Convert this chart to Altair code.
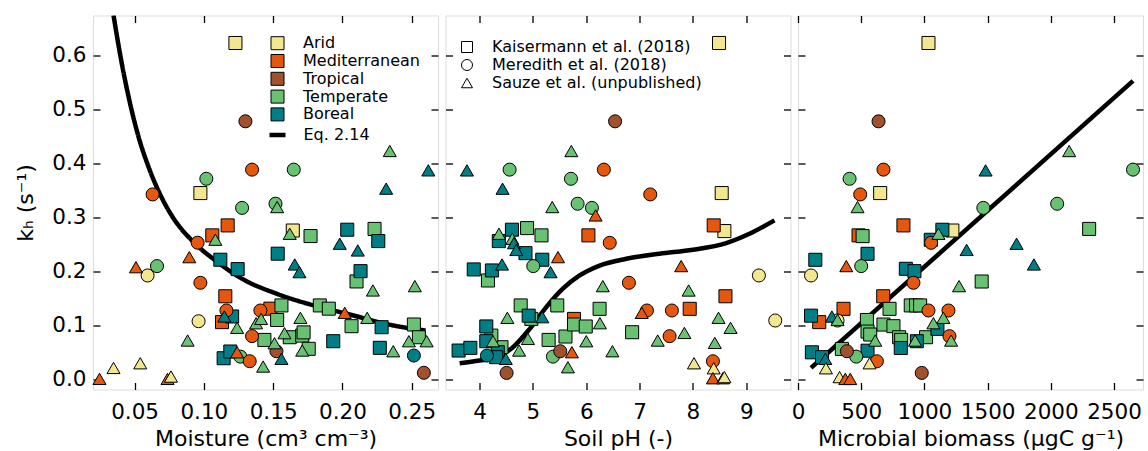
import altair as alt
import pandas as pd

FONT = "DejaVu Sans"

ZONES = ["Arid", "Mediterranean", "Tropical", "Temperate", "Boreal"]
ZONE_COLORS = ["#F2E68E", "#E5570D", "#A0512D", "#69C172", "#007E86"]
STUDIES = ["Kaisermann et al. (2018)", "Meredith et al. (2018)", "Sauze et al. (unpublished)"]
STUDY_SHAPES = ["square", "circle", "triangle-up"]
Y_TICKS = [0.0, 0.1, 0.2, 0.3, 0.4, 0.5, 0.6]

# ---------------- Panel 1: moisture (cm3 cm-3) vs kh ----------------
moist_kais = [
    (0.1228, 0.624, "Arid"), (0.0975, 0.3455, "Arid"), (0.1642, 0.276, "Arid"),
    (0.1172, 0.2855, "Mediterranean"), (0.1061, 0.267, "Mediterranean"), (0.1155, 0.154, "Mediterranean"),
    (0.1131, 0.106, "Mediterranean"), (0.1480, 0.131, "Mediterranean"),
    (0.1770, 0.2657, "Temperate"), (0.2232, 0.279, "Temperate"), (0.2102, 0.1815, "Temperate"),
    (0.1560, 0.137, "Temperate"), (0.1837, 0.137, "Temperate"), (0.1902, 0.131, "Temperate"),
    (0.1529, 0.110, "Temperate"), (0.2066, 0.0985, "Temperate"), (0.2516, 0.1016, "Temperate"),
    (0.2552, 0.078, "Temperate"), (0.1437, 0.073, "Temperate"), (0.1620, 0.078, "Temperate"),
    (0.1710, 0.081, "Temperate"), (0.1720, 0.087, "Temperate"), (0.1757, 0.0565, "Temperate"),
    (0.1119, 0.2218, "Boreal"), (0.1244, 0.2044, "Boreal"), (0.1533, 0.233, "Boreal"),
    (0.2035, 0.2775, "Boreal"), (0.2259, 0.2564, "Boreal"), (0.2131, 0.2006, "Boreal"),
    (0.2283, 0.0966, "Boreal"), (0.1934, 0.0706, "Boreal"), (0.2270, 0.0583, "Boreal"),
    (0.1204, 0.1165, "Boreal"), (0.1143, 0.039, "Boreal"), (0.1191, 0.0515, "Boreal"),
]
moist_mere = [
    (0.1300, 0.4787, "Tropical"), (0.1348, 0.389, "Mediterranean"), (0.1649, 0.389, "Temperate"),
    (0.1018, 0.372, "Temperate"), (0.0630, 0.343, "Mediterranean"), (0.1517, 0.3258, "Temperate"),
    (0.1276, 0.318, "Temperate"), (0.0955, 0.2534, "Mediterranean"), (0.0662, 0.210, "Temperate"),
    (0.0594, 0.1926, "Arid"), (0.0975, 0.179, "Mediterranean"), (0.1163, 0.1276, "Mediterranean"),
    (0.1408, 0.1276, "Mediterranean"), (0.0962, 0.1077, "Arid"), (0.1348, 0.080, "Mediterranean"),
    (0.1264, 0.042, "Temperate"), (0.1331, 0.0335, "Mediterranean"), (0.1524, 0.052, "Tropical"),
    (0.2516, 0.044, "Boreal"), (0.2588, 0.012, "Tropical"),
]
moist_sauze = [
    (0.2342, 0.4236, "Temperate"), (0.2620, 0.3877, "Boreal"), (0.2316, 0.3537, "Boreal"),
    (0.1529, 0.3195, "Temperate"), (0.1620, 0.270, "Temperate"), (0.1083, 0.259, "Temperate"),
    (0.1981, 0.2515, "Boreal"), (0.2111, 0.239, "Boreal"), (0.0895, 0.2266, "Mediterranean"),
    (0.0510, 0.208, "Mediterranean"), (0.1656, 0.213, "Boreal"), (0.1690, 0.1988, "Boreal"),
    (0.2220, 0.1648, "Temperate"), (0.2523, 0.1728, "Temperate"), (0.2017, 0.1233, "Mediterranean"),
    (0.2179, 0.114, "Temperate"), (0.1697, 0.114, "Temperate"), (0.1148, 0.1165, "Boreal"),
    (0.0883, 0.0719, "Temperate"), (0.0348, 0.021, "Arid"), (0.0541, 0.0297, "Arid"),
    (0.0247, 0.0007, "Mediterranean"), (0.0738, 0.0007, "Mediterranean"), (0.0763, 0.005, "Arid"),
    (0.1240, 0.0955, "Temperate"), (0.1240, 0.050, "Mediterranean"), (0.1377, 0.104, "Temperate"),
    (0.1413, 0.112, "Temperate"), (0.1428, 0.0236, "Temperate"), (0.1510, 0.0669, "Temperate"),
    (0.1560, 0.0379, "Boreal"), (0.1582, 0.0855, "Temperate"), (0.1710, 0.0533, "Temperate"),
    (0.2367, 0.052, "Temperate"), (0.2480, 0.0706, "Temperate"), (0.2608, 0.0706, "Temperate"),
]
moist_curve_x = [0.0348, 0.0397, 0.0457, 0.0529, 0.0601, 0.0698, 0.0775, 0.0930, 0.1083, 0.1276,
                 0.1528, 0.1842, 0.2034, 0.2371, 0.2600]
moist_curve_k = [0.6756, 0.601, 0.524, 0.4496, 0.394, 0.336, 0.301, 0.2535, 0.2205, 0.1865,
                 0.1585, 0.1337, 0.1214, 0.0997, 0.0904]

# ---------------- Panel 2: soil pH vs kh ----------------
ph_kais = [
    (8.49, 0.624, "Arid"), (8.54, 0.3455, "Arid"), (8.59, 0.275, "Arid"),
    (8.39, 0.2855, "Mediterranean"), (6.04, 0.267, "Mediterranean"), (8.61, 0.154, "Mediterranean"),
    (7.94, 0.1307, "Mediterranean"), (5.77, 0.112, "Mediterranean"),
    (4.89, 0.2805, "Temperate"), (5.16, 0.267, "Temperate"), (4.156, 0.1833, "Temperate"),
    (4.77, 0.137, "Temperate"), (4.97, 0.112, "Temperate"), (5.456, 0.137, "Temperate"),
    (5.294, 0.073, "Temperate"), (5.61, 0.0793, "Temperate"), (5.77, 0.1016, "Temperate"),
    (5.99, 0.0979, "Temperate"), (6.25, 0.1307, "Temperate"), (6.86, 0.0873, "Temperate"),
    (4.41, 0.0595, "Temperate"), (4.22, 0.081, "Temperate"),
    (4.606, 0.2775, "Boreal"), (4.36, 0.2564, "Boreal"), (4.86, 0.234, "Boreal"),
    (5.175, 0.2218, "Boreal"), (3.89, 0.2038, "Boreal"), (4.23, 0.2019, "Boreal"),
    (4.92, 0.118, "Boreal"), (4.125, 0.098, "Boreal"), (4.125, 0.0706, "Boreal"),
    (3.606, 0.0533, "Boreal"), (3.826, 0.0583, "Boreal"), (4.34, 0.0502, "Boreal"),
    (4.31, 0.041, "Boreal"),
]
ph_mere = [
    (6.54, 0.4786, "Tropical"), (6.33, 0.389, "Mediterranean"), (4.5625, 0.389, "Temperate"),
    (5.7125, 0.372, "Temperate"), (7.20, 0.343, "Mediterranean"), (5.8375, 0.3257, "Temperate"),
    (6.106, 0.318, "Temperate"), (6.44, 0.2532, "Mediterranean"), (5.006, 0.210, "Temperate"),
    (9.2375, 0.1926, "Arid"), (6.80, 0.179, "Mediterranean"), (7.1375, 0.1276, "Mediterranean"),
    (7.606, 0.1276, "Mediterranean"), (9.544, 0.109, "Arid"), (7.5625, 0.080, "Mediterranean"),
    (5.375, 0.042, "Temperate"), (8.375, 0.0334, "Mediterranean"), (5.5125, 0.052, "Tropical"),
    (4.1375, 0.044, "Boreal"), (4.506, 0.0118, "Tropical"),
]
ph_sauze = [
    (5.72, 0.4235, "Temperate"), (3.7625, 0.3876, "Boreal"), (4.43, 0.3536, "Boreal"),
    (5.3625, 0.3195, "Temperate"), (6.175, 0.304, "Mediterranean"), (4.3625, 0.270, "Temperate"),
    (4.6125, 0.2607, "Temperate"), (4.644, 0.2526, "Boreal"), (4.6875, 0.240, "Boreal"),
    (5.47, 0.2266, "Mediterranean"), (4.42, 0.213, "Boreal"), (7.78, 0.210, "Mediterranean"),
    (5.33, 0.1988, "Boreal"), (6.31, 0.1728, "Temperate"), (7.92, 0.1647, "Temperate"),
    (7.04, 0.1232, "Mediterranean"), (4.52, 0.114, "Temperate"), (5.175, 0.1152, "Boreal"),
    (8.48, 0.114, "Temperate"), (6.256, 0.104, "Temperate"), (8.706, 0.0954, "Temperate"),
    (7.84, 0.086, "Temperate"), (7.34, 0.0718, "Temperate"), (4.906, 0.0749, "Temperate"),
    (6.00, 0.0706, "Temperate"), (8.41, 0.0675, "Temperate"), (4.74, 0.0533, "Temperate"),
    (6.49, 0.052, "Temperate"), (5.73, 0.0502, "Mediterranean"), (4.49, 0.0378, "Boreal"),
    (4.25, 0.0706, "Temperate"), (5.656, 0.0223, "Temperate"), (8.02, 0.0297, "Arid"),
    (8.39, 0.0204, "Arid"), (8.375, 0.0019, "Mediterranean"), (8.5625, 0.0019, "Mediterranean"),
    (8.59, 0.004, "Arid"),
]
ph_curve_x = [3.625, 4.0, 4.31, 4.625, 4.94, 5.25, 5.56, 5.875, 6.25, 6.75, 7.375, 8.0, 8.625, 9.06, 9.53]
ph_curve_k = [0.0297, 0.0347, 0.0409, 0.0595, 0.0936, 0.1338, 0.168, 0.1926, 0.211, 0.2236, 0.233,
              0.2403, 0.2527, 0.270, 0.2948]

# ---------------- Panel 3: microbial biomass (ugC g-1) vs kh ----------------
bio_kais = [
    (1032, 0.624, "Arid"), (650, 0.3455, "Arid"), (1221, 0.276, "Arid"),
    (834, 0.2855, "Mediterranean"), (479, 0.267, "Mediterranean"), (674, 0.154, "Mediterranean"),
    (360, 0.1307, "Mediterranean"), (168, 0.106, "Mediterranean"),
    (511, 0.2656, "Temperate"), (1453, 0.1814, "Temperate"), (2303, 0.279, "Temperate"),
    (724, 0.1307, "Temperate"), (892, 0.137, "Temperate"), (934, 0.137, "Temperate"),
    (966, 0.137, "Temperate"), (545, 0.110, "Temperate"), (676, 0.1015, "Temperate"),
    (755, 0.0985, "Temperate"), (550, 0.0885, "Temperate"), (571, 0.083, "Temperate"),
    (800, 0.078, "Temperate"), (816, 0.073, "Temperate"), (1013, 0.078, "Temperate"),
    (347, 0.0563, "Temperate"),
    (550, 0.2328, "Boreal"), (137, 0.2217, "Boreal"), (1142, 0.2774, "Boreal"),
    (1050, 0.2588, "Boreal"), (853, 0.205, "Boreal"), (921, 0.2006, "Boreal"),
    (103, 0.118, "Boreal"), (1103, 0.0935, "Boreal"), (940, 0.0706, "Boreal"),
    (813, 0.058, "Boreal"), (550, 0.053, "Boreal"), (110, 0.050, "Boreal"), (190, 0.041, "Boreal"),
]
bio_mere = [
    (637, 0.4786, "Tropical"), (676, 0.389, "Mediterranean"), (408, 0.372, "Temperate"),
    (492, 0.343, "Mediterranean"), (1466, 0.318, "Temperate"), (2050, 0.3257, "Temperate"),
    (2650, 0.389, "Temperate"), (1053, 0.2532, "Mediterranean"), (500, 0.210, "Temperate"),
    (103, 0.1926, "Arid"), (913, 0.179, "Mediterranean"), (1032, 0.1276, "Mediterranean"),
    (1190, 0.1276, "Mediterranean"), (313, 0.109, "Arid"), (1198, 0.080, "Mediterranean"),
    (461, 0.042, "Temperate"), (624, 0.0334, "Mediterranean"), (387, 0.052, "Tropical"),
    (979, 0.0118, "Tropical"),
]
bio_sauze = [
    (2145, 0.4235, "Temperate"), (1484, 0.3876, "Boreal"), (471, 0.3195, "Temperate"),
    (1111, 0.270, "Temperate"), (1334, 0.240, "Boreal"), (1729, 0.2514, "Boreal"),
    (1866, 0.213, "Boreal"), (382, 0.210, "Mediterranean"), (1274, 0.1728, "Temperate"),
    (268, 0.1164, "Boreal"), (1150, 0.114, "Temperate"), (1071, 0.104, "Temperate"),
    (313, 0.110, "Temperate"), (611, 0.0718, "Temperate"), (926, 0.0718, "Temperate"),
    (1211, 0.0718, "Temperate"), (216, 0.0378, "Boreal"), (221, 0.0204, "Arid"),
    (566, 0.0297, "Arid"), (329, 0.004, "Arid"), (374, 0.0006, "Mediterranean"),
    (413, 0.0006, "Mediterranean"),
]
bio_curve_x = [103, 2650]
bio_curve_k = [0.0212, 0.5536]


def points_frame(kais, mere, sauze):
    rows = []
    for study, group in zip(STUDIES, [kais, mere, sauze]):
        for x, k, zone in group:
            rows.append({"x": x, "k": k, "zone": zone, "study": study})
    return pd.DataFrame(rows)


LEG_FS = 16
fill_legend = alt.Legend(
    title=None, orient="none", legendX=176.5, legendY=19.7, symbolType="square", symbolSize=169,
    symbolStrokeColor="black", symbolStrokeWidth=1, labelFontSize=LEG_FS, labelFont=FONT,
    labelColor="black", labelOffset=17.5, rowPadding=-0.2, padding=0, direction="vertical",
    labelLimit=400,
)
shape_legend = alt.Legend(
    title=None, orient="none", legendX=366, legendY=23.5, symbolSize=121,
    symbolFillColor="white", symbolStrokeColor="black", symbolStrokeWidth=1,
    labelFontSize=LEG_FS, labelFont=FONT, labelColor="black", labelOffset=17, rowPadding=2,
    padding=0, direction="vertical", labelLimit=400,
)
line_legend = alt.Legend(
    title=None, orient="none", legendX=174, legendY=109, symbolType="stroke", symbolSize=256,
    symbolStrokeColor="black", symbolStrokeWidth=4.5, labelFontSize=LEG_FS, labelFont=FONT,
    labelColor="black", labelOffset=15.5, padding=0, labelLimit=400,
)

Y_DOMAIN = [-0.019, 0.675]
W, H = 345, 374


def panel(pts, cx, ck, xdomain, xticks, xfmt, xtitle, show_y, line_label=None, interp="monotone"):
    xs = alt.Scale(domain=xdomain, nice=False, zero=False)
    ys = alt.Scale(domain=Y_DOMAIN, nice=False, zero=False)
    tick_kw = dict(labels=False, title=None, domain=False, grid=False, ticks=True, tickSize=7,
                   offset=-7, tickColor="black", tickWidth=1.3)
    curve_df = pd.DataFrame({"x": cx, "k": ck})
    curve_df["label"] = line_label if line_label else "curve"

    enc_line = dict(
        x=alt.X("x:Q", scale=xs, axis=alt.Axis(values=xticks, orient="bottom", **tick_kw)),
        y=alt.Y("k:Q", scale=ys, axis=alt.Axis(values=Y_TICKS, orient="left", **tick_kw)),
        order=alt.Order("x:Q"),
    )
    if line_label:
        enc_line["strokeDash"] = alt.StrokeDash(
            "label:N", scale=alt.Scale(domain=[line_label], range=[[1, 0]]), legend=line_legend)
    curve = alt.Chart(curve_df).mark_line(color="black", strokeWidth=4.5, interpolate=interp,
                                          clip=True).encode(**enc_line)

    x_axis = alt.Axis(values=xticks, format=xfmt, title=xtitle, orient="bottom", ticks=False,
                      domain=False, grid=False,
                      labelFlush=False, labelFontSize=21.5, labelFont=FONT, labelColor="black",
                      labelPadding=12, titleFontSize=22, titleFont=FONT, titleFontWeight="normal",
                      titleColor="black", titlePadding=5)
    if show_y:
        y_axis = alt.Axis(values=Y_TICKS, format=".1f", title="kₕ (s⁻¹)", orient="left", ticks=False,
                          domain=False, grid=False, labelFontSize=21.5, labelFont=FONT,
                          labelColor="black", labelPadding=7, titleFontSize=22, titleFont=FONT,
                          titleFontWeight="normal", titleColor="black", titlePadding=14)
    else:
        y_axis = alt.Axis(values=Y_TICKS, orient="left", labels=False, title=None, ticks=False,
                          domain=False, grid=False)

    points = alt.Chart(pts).mark_point(filled=True, size=170, stroke="black", strokeWidth=1,
                                        opacity=1, fillOpacity=1).encode(
        x=alt.X("x:Q", scale=xs, axis=x_axis),
        y=alt.Y("k:Q", scale=ys, axis=y_axis),
        fill=alt.Fill("zone:N", scale=alt.Scale(domain=ZONES, range=ZONE_COLORS), legend=fill_legend),
        shape=alt.Shape("study:N", scale=alt.Scale(domain=STUDIES, range=STUDY_SHAPES),
                        legend=shape_legend),
    )

    ghost = alt.Chart(curve_df).mark_line(opacity=0).encode(
        x=alt.X("x:Q", scale=xs, axis=alt.Axis(values=xticks, orient="top", **tick_kw)),
        y=alt.Y("k:Q", scale=ys, axis=alt.Axis(values=Y_TICKS, orient="right", **tick_kw)),
    )

    return alt.layer(curve, points, ghost).resolve_axis(x="independent", y="independent").properties(
        width=W, height=H)


p1 = panel(points_frame(moist_kais, moist_mere, moist_sauze), moist_curve_x, moist_curve_k,
           [0.020, 0.269], [0.05, 0.10, 0.15, 0.20, 0.25], ".2f", "Moisture (cm³ cm⁻³)", True,
           line_label="Eq. 2.14")
p2 = panel(points_frame(ph_kais, ph_mere, ph_sauze), ph_curve_x, ph_curve_k,
           [3.36, 9.83], [4, 5, 6, 7, 8, 9], "d", "Soil pH (-)", False)
p3 = panel(points_frame(bio_kais, bio_mere, bio_sauze), bio_curve_x, bio_curve_k,
           [0, 2729], [0, 500, 1000, 1500, 2000, 2500], "d", "Microbial biomass (μgC g⁻¹)", False,
           interp="linear")

chart = alt.hconcat(p1, p2, p3, spacing=7.5, bounds="flush").properties(
    padding={"left": 14, "top": 13.5, "right": 0, "bottom": 0}
).configure_view(stroke="black", strokeWidth=1.5).configure(background="white")

chart.save("out.html", embed_options={"renderer": "svg", "actions": False})
